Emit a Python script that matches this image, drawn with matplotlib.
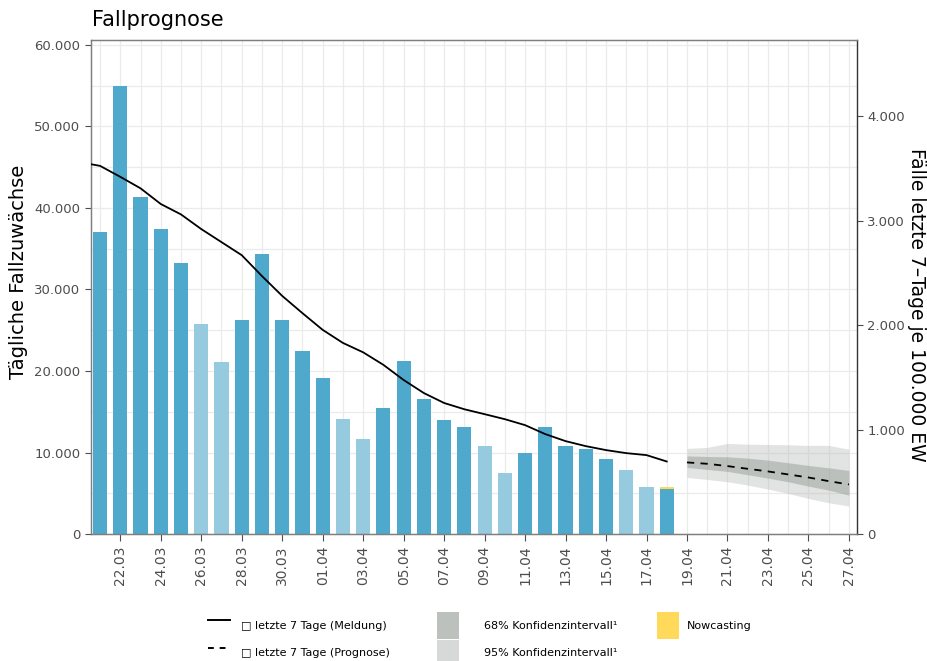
import numpy as np
import pandas as pd
import matplotlib
matplotlib.use("Agg")
import matplotlib.pyplot as plt
import matplotlib.dates as mdates
from matplotlib.lines import Line2D
from matplotlib.patches import Patch
from matplotlib.ticker import FuncFormatter, MultipleLocator, FixedLocator

# daily new cases (bars, left axis)
bar_dates = pd.date_range("2022-03-21", "2022-04-18")
bar_values = [37100, 55000, 41400, 37450, 33300, 25800, 21100, 26300, 34400, 26300,
              22450, 19150, 14150, 11650, 15450, 21250, 16550, 14000, 13150, 10800,
              7500, 9950, 13150, 10850, 10400, 9200, 7850, 5800, 5550]
light_days = ["2022-03-26", "2022-03-27", "2022-04-02", "2022-04-03",
              "2022-04-09", "2022-04-10", "2022-04-16", "2022-04-17"]
nowcast_date = "2022-04-18"
nowcast_value = 250

# 7-day incidence (right axis)
inc_dates = pd.date_range("2022-03-20", "2022-04-18")
inc_values = [3560, 3525, 3420, 3310, 3160, 3060, 2920, 2795, 2670, 2470,
              2280, 2115, 1955, 1830, 1740, 1620, 1475, 1350, 1255, 1195,
              1148, 1100, 1043, 957, 890, 842, 804, 775, 756, 695]

# forecast
fc_dates = pd.date_range("2022-04-19", "2022-04-27")
fc_median = [686, 673, 651, 625, 600, 571, 542, 507, 475]
fc_lo68 = [638, 619, 600, 568, 536, 501, 459, 421, 373]
fc_hi68 = [749, 743, 740, 727, 708, 683, 657, 635, 609]
fc_lo95 = [542, 523, 501, 469, 431, 389, 341, 300, 268]
fc_hi95 = [820, 830, 868, 861, 858, 855, 849, 849, 813]

tick_dates = pd.date_range("2022-03-22", "2022-04-27", freq="2D")

DARK = "#4EA9CC"
LIGHT = "#96CADF"
YELLOW = "#FFD95A"
TXT = "#4D4D4D"

plt.rcParams["font.family"] = "DejaVu Sans"

fig = plt.figure(figsize=(9.28, 6.61), dpi=100)
ax = fig.add_axes([0.098, 0.192, 0.8255, 0.7475])

colors = [LIGHT if d.strftime("%Y-%m-%d") in light_days else DARK for d in bar_dates]
ax.bar(bar_dates, bar_values, width=0.7, color=colors, zorder=2)
nc = [nowcast_value if d.strftime("%Y-%m-%d") == nowcast_date else 0 for d in bar_dates]
ax.bar(bar_dates, nc, bottom=bar_values, width=0.7, color=YELLOW, zorder=2)

ax.set_xlim(mdates.date2num(pd.Timestamp("2022-03-21")) - 0.45,
            mdates.date2num(pd.Timestamp("2022-04-27")) + 0.4)
ax.set_ylim(0, 60600)
ax.yaxis.set_major_locator(MultipleLocator(10000))
ax.yaxis.set_minor_locator(MultipleLocator(5000))
fmt = FuncFormatter(lambda v, p: f"{int(round(v)):,}".replace(",", "."))
ax.yaxis.set_major_formatter(fmt)
ax.xaxis.set_major_locator(FixedLocator(mdates.date2num(tick_dates)))
ax.xaxis.set_minor_locator(mdates.DayLocator())
ax.xaxis.set_major_formatter(mdates.DateFormatter("%d.%m"))
ax.grid(True, which="both", color="#EBEBEB", lw=0.9, zorder=0)
ax.set_axisbelow(True)
ax.tick_params(axis="x", which="major", rotation=90, labelsize=10, colors=TXT,
               length=5, pad=3)
ax.tick_params(axis="x", which="minor", length=0)
ax.tick_params(axis="y", which="major", labelsize=9.5, colors=TXT, length=4)
ax.tick_params(axis="y", which="minor", length=0)
ax.set_ylabel("Tägliche Fallzuwächse", fontsize=14, va="center", ha="center")
ax.yaxis.set_label_coords(-0.094, 0.53)

ax2 = ax.twinx()
ax2.plot(inc_dates, inc_values, color="black", lw=1.3, zorder=3)
ax2.fill_between(fc_dates, fc_lo95, fc_hi95, color="#A9AEAB", alpha=0.33, lw=0)
ax2.fill_between(fc_dates, fc_lo68, fc_hi68, color="#8E9690", alpha=0.45, lw=0)
ax2.plot(fc_dates, fc_median, color="black", lw=1.3, ls=(0, (4, 3.5)), zorder=3)
ax2.set_ylim(0, 4730)
ax2.yaxis.set_major_locator(MultipleLocator(1000))
ax2.yaxis.set_major_formatter(fmt)
ax2.tick_params(axis="y", labelsize=9.5, colors=TXT, length=4)
ax2.set_ylabel("Fälle letzte 7\u2013Tage je 100.000 EW", fontsize=13.5, rotation=270,
               va="center", ha="center")
ax2.yaxis.set_label_coords(1.078, 0.464)

for a in (ax, ax2):
    for s in a.spines.values():
        s.set_color("#7F7F7F")
        s.set_linewidth(0.9)
ax2.spines["right"].set_color("#333333")

fig.text(0.099, 0.985, "Fallprognose", fontsize=15, va="top", ha="left")

leg_kw = dict(loc="upper left", frameon=False, fontsize=8, borderpad=0,
              borderaxespad=0, handlelength=2.0, handleheight=3.3,
              labelspacing=0.1)
fig.legend([Line2D([], [], color="black", lw=1.4),
            Line2D([], [], color="black", lw=1.4, ls=(0, (3, 3)))],
           ["\u25a1 letzte 7 Tage (Meldung)", "\u25a1 letzte 7 Tage (Prognose)"],
           bbox_to_anchor=(0.224, 0.074), handletextpad=1.0, **leg_kw)
fig.legend([Patch(facecolor="#BCC1BD", edgecolor="none"),
            Patch(facecolor="#D7D9D8", edgecolor="none")],
           ["68% Konfidenzintervall\u00b9", "95% Konfidenzintervall\u00b9"],
           bbox_to_anchor=(0.471, 0.074), handletextpad=2.2, **leg_kw)
fig.legend([Patch(facecolor=YELLOW, edgecolor="none")], ["Nowcasting"],
           bbox_to_anchor=(0.708, 0.074), handletextpad=0.7, **leg_kw)

fig.savefig("out.png", dpi=100)
